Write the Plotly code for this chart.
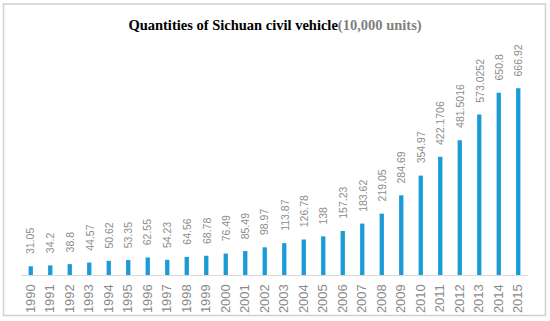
import plotly.graph_objects as go

years = [str(y) for y in range(1990, 2016)]
values = [31.05, 34.2, 38.8, 44.57, 50.62, 53.35, 62.55, 54.23, 64.56, 68.78,
          76.49, 85.49, 98.97, 113.87, 126.78, 138, 157.23, 183.62, 219.05,
          284.69, 354.97, 422.1706, 481.5016, 573.0252, 650.8, 666.92]
labels = ["31.05", "34.2", "38.8", "44.57", "50.62", "53.35", "62.55", "54.23",
          "64.56", "68.78", "76.49", "85.49", "98.97", "113.87", "126.78", "138",
          "157.23", "183.62", "219.05", "284.69", "354.97", "422.1706", "481.5016",
          "573.0252", "650.8", "666.92"]

W, H = 550, 321
L, R, T, B = 21, 22, 51, 46
pw, ph = W - L - R, H - T - B

def px(x):
    return (x - L) / pw

def py(y):
    return (H - B - y) / ph

fig = go.Figure(go.Bar(
    x=years, y=values, width=0.22,
    marker=dict(color="#1a9ad6", line=dict(width=0)),
    hoverinfo="x+y",
))

# category axis: annotation x is the category's serial index
annotations = [
    dict(x=i, y=v, xref="x", yref="y", text=lab, showarrow=False,
         textangle=-90, xanchor="center", yanchor="bottom", yshift=10,
         font=dict(family="Liberation Sans", size=10.5, color="#8c8c8c"))
    for i, (v, lab) in enumerate(zip(values, labels))
]

fig.update_layout(
    width=W, height=H,
    margin=dict(l=L, r=R, t=T, b=B, autoexpand=False),
    paper_bgcolor="white", plot_bgcolor="white",
    title=dict(
        text="<b>Quantities of Sichuan civil vehicle</b><b><span style='color:#7f7f7f'>(10,000 units)</span></b>",
        x=0.5, xanchor="center", y=1 - 25 / H, yanchor="middle",
        font=dict(family="Liberation Serif", size=14.5, color="black"),
    ),
    xaxis=dict(
        type="category", range=[-0.5, 25.5], showline=True, linecolor="#d9d9d9",
        linewidth=1, showgrid=False, ticks="", tickangle=-90, automargin=False,
        ticklabelstandoff=3,
        tickfont=dict(family="Liberation Sans", size=13, color="#8a8a8a"),
    ),
    yaxis=dict(range=[0, 800], visible=False, showgrid=False, zeroline=False),
    showlegend=False,
    annotations=annotations,
    shapes=[dict(type="rect", xref="paper", yref="paper",
                 x0=px(3.5), x1=px(545.5), y0=py(315.5), y1=py(4),
                 line=dict(color="#d0d0d0", width=1.5), layer="above")],
)

fig.write_html("out.html", config={"displayModeBar": False},
               post_script="document.body.style.margin='0';")
